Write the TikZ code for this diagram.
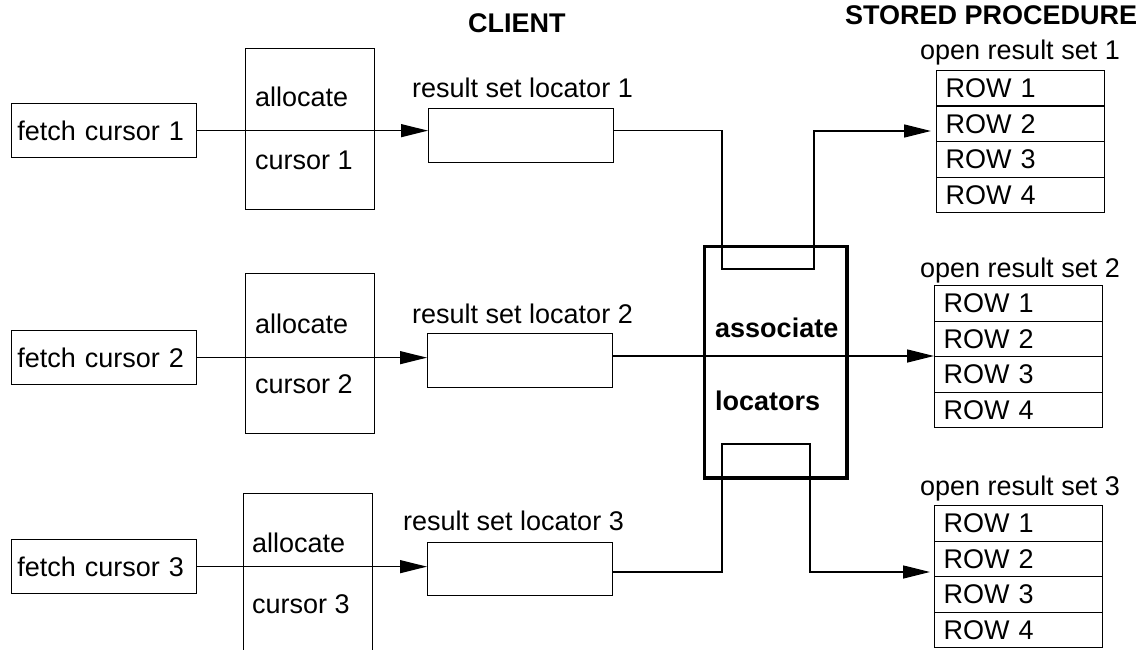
\documentclass[tikz,border=0pt]{standalone}
\usepackage{fontspec}
\setmainfont{Liberation Sans}
\usetikzlibrary{arrows.meta,positioning,calc}
\begin{document}
\begin{tikzpicture}[x=1pt,y=-1pt,
  every node/.style={font=\fontsize{27}{32}\selectfont},
  box/.style={draw, line width=1.3pt, inner sep=0pt, anchor=north west},
  fetchbox/.style={box, minimum width=185.3pt, minimum height=54pt, text width=173.3pt, align=left, inner xsep=6pt},
  locbox/.style={box, minimum width=185pt, minimum height=54pt},
  allocbox/.style={box, minimum width=129pt},
  rowbox/.style={box, minimum width=168pt, minimum height=35.5pt, text width=150pt, align=left, inner xsep=9pt},
  txt/.style={inner sep=0pt, anchor=base west},
  btxt/.style={inner sep=0pt, anchor=base west, font=\fontsize{27}{32}\selectfont\bfseries},
  conn/.style={line width=1.3pt},
  arr/.style={conn, -{Triangle[length=27pt,width=13pt]}},
]
\useasboundingbox (0,0) rectangle (1146,650);

% headings
\node[btxt] (client) at (468,33) {CLIENT};
\node[btxt] (sp) at (845,25) {STORED PROCEDURE};

% fetch boxes
\node[fetchbox] (f1) at (10.7,103) {fetch cursor 1};
\node[fetchbox] (f2) at (10.7,330) {fetch cursor 2};
\node[fetchbox] (f3) at (10.7,539) {fetch cursor 3};

% allocate boxes
\node[allocbox, minimum height=161pt] (al1) at (245,48) {};
\node[allocbox, minimum height=160pt] (al2) at (245,273) {};
\node[allocbox, minimum height=200pt] (al3) at (243,493) {};
\node[txt] (al1t) at (255,107) {allocate};
\node[txt] (al1c) at (255,170) {cursor 1};
\node[txt] (al2t) at (255,333) {allocate};
\node[txt] (al2c) at (255,393) {cursor 2};
\node[txt] (al3t) at (252,552) {allocate};
\node[txt] (al3c) at (252,613) {cursor 3};

% locator boxes
\node[locbox] (l1) at (428,108) {};
\node[locbox] (l2) at (427,333) {};
\node[locbox, minimum height=53pt] (l3) at (427,542) {};
\node[txt] (l1lab) at (412,98) {result set locator 1};
\node[txt] (l2lab) at (412,323) {result set locator 2};
\node[txt] (l3lab) at (403,530) {result set locator 3};

% associate locators
\node[box, line width=3.3pt, minimum width=142.7pt, minimum height=231.7pt] (as) at (702.65,244.65) {};
\node[btxt] (ast) at (715,337) {associate};
\node[btxt] (asl) at (715,410) {locators};

% open result sets
\node[txt] (s1lab) at (920,60) {open result set 1};
\node[rowbox] (s1r1) at (936,70) {ROW 1};
\node[rowbox] (s1r2) at (936,105.5) {ROW 2};
\node[rowbox] (s1r3) at (936,141) {ROW 3};
\node[rowbox] (s1r4) at (936,176.5) {ROW 4};

\node[txt] (s2lab) at (920,277) {open result set 2};
\node[rowbox] (s2r1) at (934,285) {ROW 1};
\node[rowbox] (s2r2) at (934,320.5) {ROW 2};
\node[rowbox] (s2r3) at (934,356) {ROW 3};
\node[rowbox] (s2r4) at (934,391.5) {ROW 4};

\node[txt] (s3lab) at (920,495) {open result set 3};
\node[rowbox] (s3r1) at (934,505) {ROW 1};
\node[rowbox] (s3r2) at (934,540.5) {ROW 2};
\node[rowbox] (s3r3) at (934,576) {ROW 3};
\node[rowbox] (s3r4) at (934,611.5) {ROW 4};

% connectors client side
\draw[arr] (f1.east) -- (f1.east -| l1.west);
\draw[arr] (f2.east) -- (f2.east -| l2.west);
\draw[arr] (f3.east) -- (f3.east -| l3.west);

% connectors through associate locators
\coordinate (u1a) at (722,269);
\coordinate (u1b) at (814,269);
\coordinate (a1) at (931,131);
\draw[arr] (l1.east |- f1.east) -| (u1a) -- (u1b) |- (a1);

\draw[arr] (l2.east |- s2r3.north west) -- (s2r3.north west);

\coordinate (u3a) at (722,444);
\coordinate (u3b) at (810,444);
\coordinate (a3) at (930,572);
\draw[arr] (l3.east |- a3) -| (u3a) -- (u3b) |- (a3);
\end{tikzpicture}
\end{document}
